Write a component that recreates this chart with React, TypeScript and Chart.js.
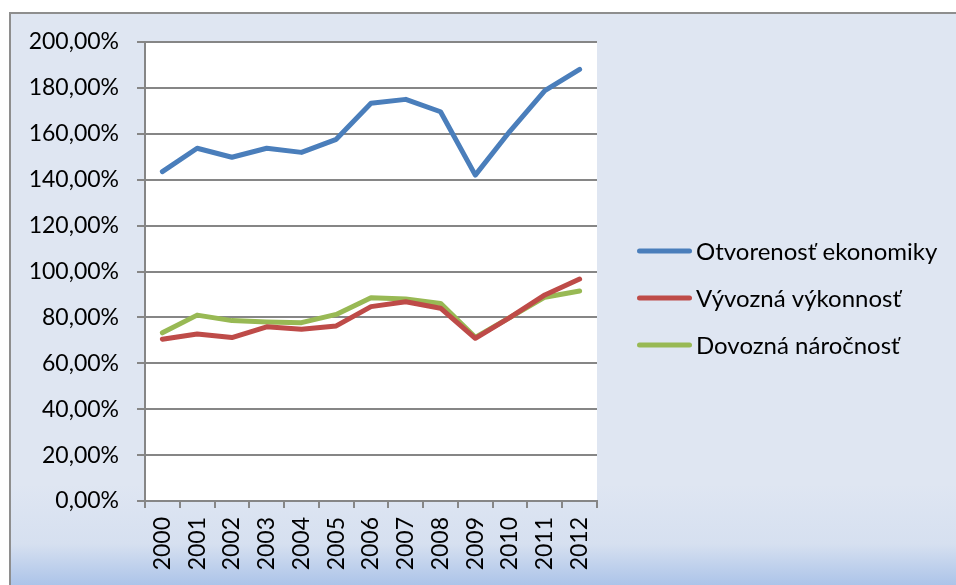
import React, { useEffect, useRef } from "react";
import { Chart, registerables } from "chart.js";

Chart.register(...registerables);

const categories = ["2000", "2001", "2002", "2003", "2004", "2005", "2006", "2007", "2008", "2009", "2010", "2011", "2012"];
const otvorenost = [143.5, 153.7, 149.8, 153.7, 151.9, 157.6, 173.3, 175.0, 169.6, 142.0, 161.2, 178.8, 188.1];
const vyvozna = [70.5, 72.8, 71.2, 75.9, 74.8, 76.3, 84.7, 86.8, 84.0, 70.9, 80.0, 89.8, 96.7];
const dovozna = [73.3, 81.0, 78.6, 78.0, 77.7, 81.3, 88.6, 88.0, 86.1, 71.3, 80.0, 88.8, 91.5];
const seriesNames = ["Otvorenosť ekonomiky", "Vývozná výkonnosť", "Dovozná náročnosť"];
const seriesColors = ["#4a7ebb", "#be4b48", "#98b954"];
const yMin = 0;
const yMax = 200;
const yStep = 20;

const FONT = "Lato, 'Open Sans', sans-serif";

const plotBg = {
  id: "plotBg",
  beforeDraw(chart: any) {
    const { ctx, chartArea } = chart;
    if (!chartArea) return;
    ctx.save();
    ctx.fillStyle = "#ffffff";
    ctx.fillRect(chartArea.left, chartArea.top, chartArea.right - chartArea.left, chartArea.bottom - chartArea.top);
    ctx.restore();
  },
};

// Legend drawn beside the plot (Chart.js caps a side legend's width at a fraction of the canvas)
const sideLegend = {
  id: "sideLegend",
  afterDraw(chart: any) {
    const { ctx, chartArea } = chart;
    const datasets = chart.data.datasets;
    const x0 = chartArea.right + 40;
    const lineLen = 55;
    const gap = 4;
    const spacing = 47;
    const midY = (chartArea.top + chartArea.bottom) / 2 + 26.5;
    const firstY = midY - spacing * (datasets.length - 1) / 2;
    ctx.save();
    ctx.font = `24px ${FONT}`;
    ctx.textBaseline = "middle";
    ctx.textAlign = "left";
    datasets.forEach((ds: any, i: number) => {
      const y = firstY + i * spacing;
      ctx.strokeStyle = ds.borderColor;
      ctx.lineWidth = 5;
      ctx.lineCap = "round";
      ctx.beginPath();
      ctx.moveTo(x0 + 2.5, y);
      ctx.lineTo(x0 + lineLen - 2.5, y);
      ctx.stroke();
      ctx.fillStyle = "#000000";
      ctx.fillText(ds.label, x0 + lineLen + gap, y + 1);
    });
    ctx.restore();
  },
};

export default function App() {
  const ref = useRef<HTMLCanvasElement | null>(null);

  useEffect(() => {
    if (!ref.current) return;
    const mk = (label: string, data: number[], color: string) => ({
      label,
      data,
      borderColor: color,
      backgroundColor: color,
      borderWidth: 5,
      borderCapStyle: "round",
      borderJoinStyle: "round",
      pointRadius: 0,
      pointHoverRadius: 0,
      tension: 0,
      fill: false,
    });
    const chart = new Chart(ref.current, {
      type: "line",
      data: {
        labels: categories,
        datasets: [
          mk(seriesNames[0], otvorenost, seriesColors[0]),
          mk(seriesNames[1], vyvozna, seriesColors[1]),
          mk(seriesNames[2], dovozna, seriesColors[2]),
        ] as any,
      },
      options: {
        responsive: false,
        animation: false,
        devicePixelRatio: 1,
        layout: { padding: { left: 0, top: 42, right: 359, bottom: 0 } },
        plugins: {
          tooltip: { enabled: false },
          legend: { display: false },
        },
        scales: {
          x: {
            type: "category",
            offset: true,
            grid: {
              display: true,
              drawOnChartArea: false,
              drawTicks: true,
              tickLength: 7,
              offset: true,
              color: "#868686",
              lineWidth: 2,
            },
            border: { display: true, color: "#868686", width: 2 },
            ticks: {
              autoSkip: false,
              maxRotation: 90,
              minRotation: 90,
              padding: 9,
              color: "#000000",
              font: { family: FONT, size: 23 },
            },
            afterFit(scale: any) {
              scale.height = 84;
            },
          },
          y: {
            position: "left",
            min: yMin,
            max: yMax,
            ticks: {
              stepSize: yStep,
              padding: 18,
              color: "#000000",
              font: { family: FONT, size: 23 },
              callback: (v: any) => Number(v).toFixed(2).replace(".", ",") + "%",
            },
            grid: {
              color: "#868686",
              lineWidth: 2,
              drawTicks: true,
              tickLength: 8,
            },
            border: { display: true, color: "#868686", width: 2 },
            afterFit(scale: any) {
              scale.width = 145;
            },
          },
        },
      } as any,
      plugins: [plotBg, sideLegend],
    });
    return () => chart.destroy();
  }, []);

  return (
    <>
      <style>{`html,body{margin:0;padding:0;overflow:hidden;}`}</style>
      <div
        style={{
          position: "absolute",
          left: 9,
          top: 12,
          width: 960,
          height: 575,
          borderLeft: "2px solid #8e8e8e",
          borderTop: "2px solid #8e8e8e",
          background:
            "linear-gradient(to bottom, #dfe6f2 0px, #dfe6f2 470px, #d6e0f0 530px, #a8c1e8 575px)",
        }}
      />
      <canvas
        ref={ref}
        width={956}
        height={585}
        style={{ position: "absolute", left: 0, top: 0, width: 956, height: 585 }}
      />
    </>
  );
}
